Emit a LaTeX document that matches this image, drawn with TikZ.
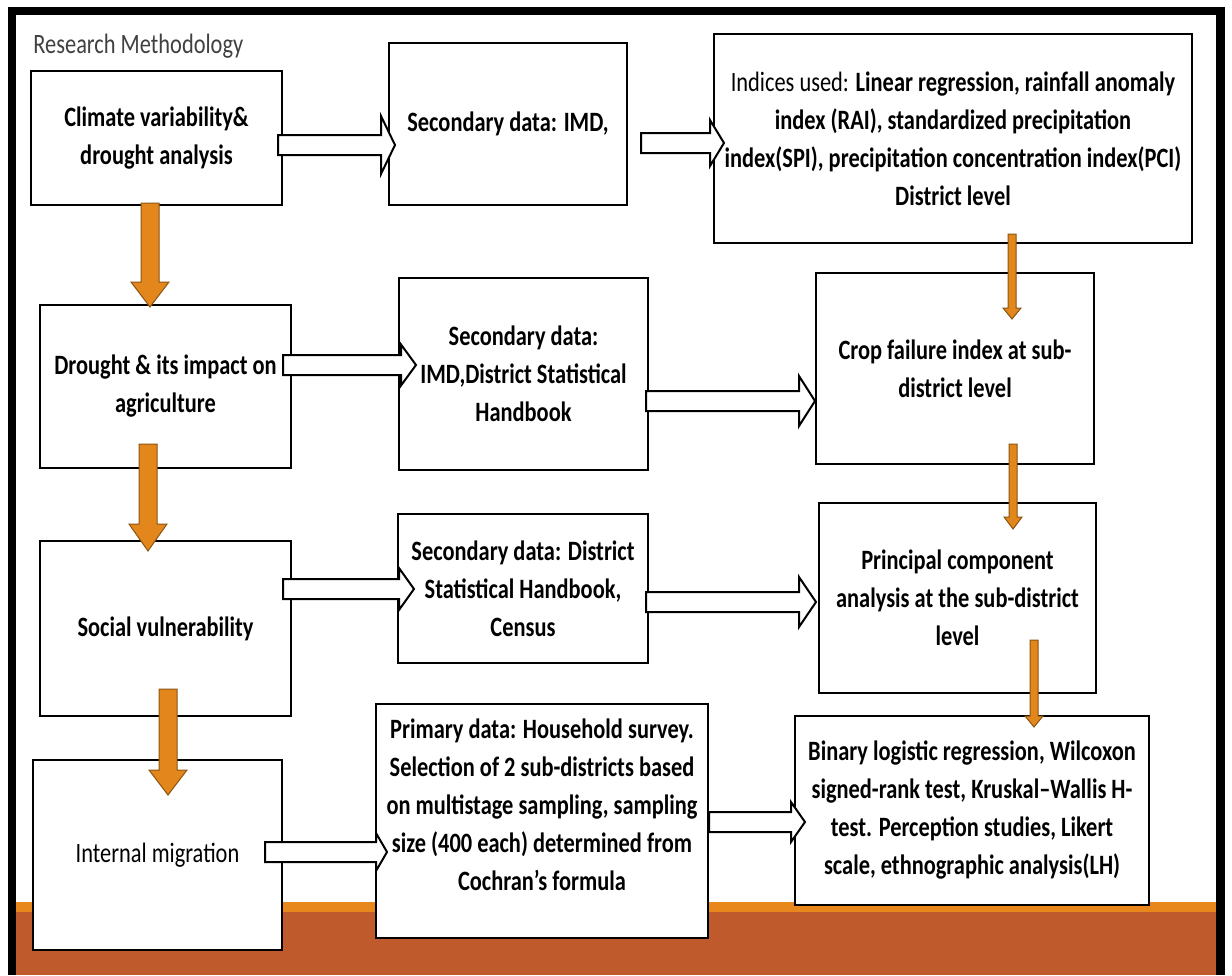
\documentclass[tikz,border=0pt]{standalone}
\usepackage{fontspec}
\setmainfont{Carlito}[FakeStretch=0.8]
\usetikzlibrary{calc,positioning}
\newcommand{\px}{0.5pt}
\newcommand{\shafthalf}{10}
\newcommand{\boxline}{1pt}
\newcommand{\boxfont}{\fontsize{14}{19}\selectfont}
\definecolor{arroworange}{HTML}{E3861B}
\definecolor{arrowedge}{HTML}{8A5512}
\definecolor{bandbrown}{HTML}{BE5A2B}
\definecolor{bandorange}{HTML}{E8871C}
\definecolor{titlegray}{HTML}{404040}

%% white block arrow: #1 tail, #2 tip, #3 head half width, #4 head length (px)
\newcommand{\whitearrow}[4]{%
  \draw[blockarrow] let \p1=#1, \p2=#2 in
    (\x1,\y1+\shafthalf*\px) -- (\x2-#4*\px,\y1+\shafthalf*\px) -- (\x2-#4*\px,\y1+#3*\px)
    -- (\x2,\y1) -- (\x2-#4*\px,\y1-#3*\px) -- (\x2-#4*\px,\y1-\shafthalf*\px)
    -- (\x1,\y1-\shafthalf*\px) -- cycle;}

%% orange down arrow: #1 tail, #2 tip, #3 shaft half, #4 head half, #5 head length (px)
\newcommand{\orangearrow}[5]{%
  \draw[droparrow] let \p1=#1, \p2=#2 in
    (\x1-#3*\px,\y1) -- (\x1-#3*\px,\y2+#5*\px) -- (\x1-#4*\px,\y2+#5*\px)
    -- (\x1,\y2) -- (\x1+#4*\px,\y2+#5*\px) -- (\x1+#3*\px,\y2+#5*\px)
    -- (\x1+#3*\px,\y1) -- cycle;}

\begin{document}
\begin{tikzpicture}[x=0.5pt,y=-0.5pt]

\tikzstyle{mbox}=[draw,line width=\boxline,fill=white,inner sep=2pt,align=center,font=\boxfont\bfseries]
\tikzstyle{blockarrow}=[draw,line width=\boxline,fill=white,line join=miter]
\tikzstyle{droparrow}=[draw=arrowedge,line width=0.5pt,fill=arroworange]

%% slide frame and bottom band
\useasboundingbox (0,0) rectangle (1232,975);
\fill[white] (0,0) rectangle (1232,975);
\fill[black] (8,7) rectangle (1225,975);
\fill[white] (16,15) rectangle (1216,975);
\fill[bandorange] (16,902) rectangle (1216,912);
\fill[bandbrown] (16,912) rectangle (1216,975);

%% title
\node (title) [anchor=base west,inner sep=0pt,font=\boxfont,text=titlegray] at (33,53) {Research Methodology};

%% first row
\node (climate) [mbox,minimum width=251*\px,minimum height=134*\px] at (156.5,138) {Climate variability\&\\drought analysis};
\node (secone) [mbox,minimum width=238*\px,minimum height=162*\px] at (508,124) {Secondary data: IMD,};
\node (indices) [mbox,minimum width=478*\px,minimum height=209*\px] at (953,138.5) {{\mdseries Indices used:} Linear regression, rainfall anomaly\\index (RAI), standardized precipitation\\index(SPI), precipitation concentration index(PCI)\\District level};

%% second row
\node (drought) [mbox,minimum width=251*\px,minimum height=163*\px] at (165.5,386.5) {Drought \& its impact on\\agriculture};
\node (sectwo) [mbox,minimum width=249*\px,minimum height=192*\px] at (523.5,374) {Secondary data:\\IMD,District Statistical\\Handbook};
\node (crop) [mbox,minimum width=278*\px,minimum height=191*\px] at (955,368.5) {Crop failure index at sub-\\district level};

%% third row
\node (social) [mbox,minimum width=251*\px,minimum height=175*\px] at (165.5,628.5) {Social vulnerability};
\node (secthree) [mbox,minimum width=250*\px,minimum height=149*\px] at (523,588.5) {Secondary data: District\\Statistical Handbook,\\Census};
\node (pca) [mbox,minimum width=277*\px,minimum height=190*\px] at (957.5,598) {Principal component\\analysis at the sub-district\\level};

%% fourth row
\node (migration) [mbox,minimum width=249*\px,minimum height=190*\px,font=\boxfont] at (157.5,855) {Internal migration};
\node (primary) [mbox,minimum width=332*\px,minimum height=234*\px] at (542,821) {};
\node (primarytext) [align=center,inner sep=0pt,font=\boxfont\bfseries] at ($(primary.center)+(0,-16.5)$) {Primary data: Household survey.\\Selection of 2 sub-districts based\\on multistage sampling, sampling\\size (400 each) determined from\\Cochran’s formula};
\node (binary) [mbox,minimum width=354*\px,minimum height=189*\px] at (972,810.5) {Binary logistic regression, Wilcoxon\\signed-rank test, Kruskal–Wallis H-\\test. Perception studies, Likert\\scale, ethnographic analysis(LH)};

%% white block arrows between columns
\whitearrow{($(climate.east)+(-5,7)$)}{($(secone.west)+(7,21)$)}{29}{14}
\whitearrow{($(secone.east)+(13,19)$)}{($(indices.west)+(11,4.5)$)}{23}{14}
\whitearrow{($(drought.east)+(-9,-21.5)$)}{($(sectwo.west)+(18,-9)$)}{20.5}{15}
\whitearrow{($(sectwo.east)+(-3,27)$)}{($(crop.west)+(0,32.5)$)}{25}{16}
\whitearrow{($(social.east)+(-9,-39.5)$)}{($(secthree.west)+(17,0.5)$)}{21}{15}
\whitearrow{($(secthree.east)+(-3,13.5)$)}{($(pca.west)+(-2,4)$)}{25}{17}
\whitearrow{($(migration.east)+(-18,-3)$)}{($(primary.west)+(12,31)$)}{19}{11}
\whitearrow{($(primary.east)+(0,1)$)}{($(binary.west)+(11,11.5)$)}{20}{14}

%% thick orange arrows down the left column
\orangearrow{($(climate.south)+(-6.5,-3)$)}{($(drought.north)+(-15.5,3)$)}{9}{19}{25}
\orangearrow{($(drought.south)+(-17.5,-25)$)}{($(social.north)+(-17.5,11)$)}{9}{19}{27}
\orangearrow{($(social.south)+(2.5,-28)$)}{($(migration.north)+(10.5,36)$)}{9}{19}{25}

%% thin orange arrows down the right column
\orangearrow{($(indices.south)+(59,-10)$)}{($(crop.north)+(57,47)$)}{4}{9}{11}
\orangearrow{($(crop.south)+(58,-21)$)}{($(pca.north)+(55.5,27)$)}{4}{9}{12}
\orangearrow{($(pca.south)+(76.5,-54)$)}{($(binary.north)+(62,12)$)}{4}{9}{11}

\end{tikzpicture}
\end{document}
